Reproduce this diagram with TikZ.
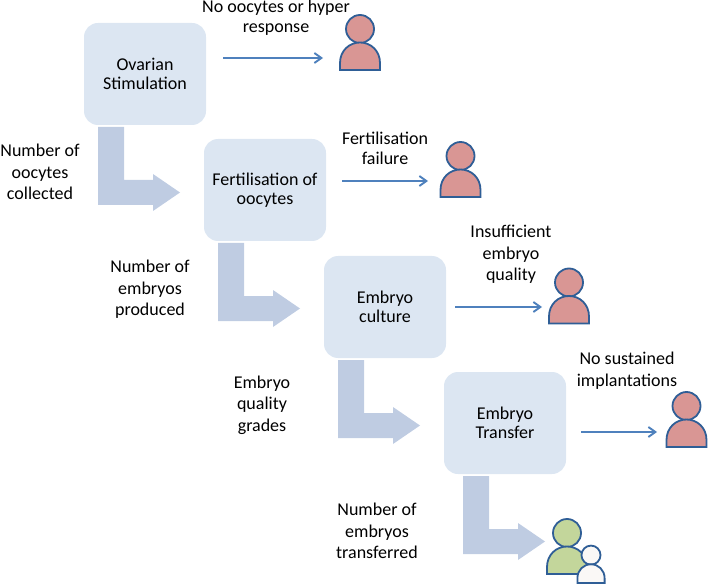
\documentclass[tikz,border=0pt]{standalone}
\usepackage{fontspec}
\setmainfont{Carlito}
\usepackage{xcolor}
\usetikzlibrary{arrows.meta}
\definecolor{boxblue}{HTML}{DCE6F2}
\definecolor{bentblue}{HTML}{BFCCE2}
\definecolor{lineblue}{HTML}{4F81BD}
\definecolor{edgeblue}{HTML}{2F5E96}
\definecolor{redfill}{HTML}{D99694}
\definecolor{greenfill}{HTML}{C3D69B}
\definecolor{paperfill}{HTML}{FAF8F6}
\tikzset{
  stagebox/.style={fill=boxblue,rounded corners=14pt,minimum width=122pt,minimum height=102pt,
    align=center,font=\fontsize{18}{19.5}\selectfont},
  caption/.style={align=center,font=\fontsize{18}{21.5}\selectfont},
  tightcaption/.style={align=center,font=\fontsize{18}{20}\selectfont},
  outcome/.style={-{Straight Barb[length=7pt,width=10pt]},lineblue,line width=1.9pt},
  person/.style={draw=edgeblue,line width=1.8pt,fill=#1},
  bent/.style={fill=bentblue}
}
\newcommand{\personshape}[4]{% x, y of base centre, scale, colour
  \begin{scope}[shift={(#1,#2)},scale=#3]
    \filldraw[person=#4] (0,-41) circle (14);
    \filldraw[person=#4] (-20,0) -- (-20,-7) .. controls (-20,-19) and (-11,-27.5) .. (0,-27.5)
      .. controls (11,-27.5) and (20,-19) .. (20,-7) -- (20,0) -- cycle;
  \end{scope}}
\begin{document}
\begin{tikzpicture}[x=1pt,y=-1pt]
\useasboundingbox (0,0) rectangle (709,585);
% bent arrows
\foreach \bx/\by in {98/127,218/243,338/360,463/476}{
  \fill[bent] (\bx,\by) -- ++(26,0) -- ++(0,53) -- ++(29,0) -- ++(0,-6) -- ++(27,18.5)
    -- ++(-27,18.5) -- ++(0,-6) -- ++(-55,0) -- cycle;
}
% stages
\node[stagebox] (ovarian) at (145,74) {Ovarian\\Stimulation};
\node[stagebox] (fert) at (265,190) {Fertilisation of\\oocytes};
\node[stagebox] (culture) at (385,307) {Embryo\\culture};
\node[stagebox] (transfer) at (505,423) {Embryo\\Transfer};
% people
\personshape{360}{70}{1}{redfill}
\personshape{460.5}{197}{1}{redfill}
\personshape{569}{323.5}{1}{redfill}
\personshape{686.5}{447}{1}{redfill}
\personshape{567}{574}{1}{greenfill}
\personshape{591}{583}{0.68}{paperfill}
% outcome arrows
\coordinate (p1) at (323,58);
\coordinate (p2) at (428,181);
\coordinate (p3) at (542,307);
\coordinate (p4) at (657,432);
\draw[outcome] (ovarian.east |- p1) ++(17,0) -- (p1);
\draw[outcome] (fert.east |- p2) ++(16,0) -- (p2);
\draw[outcome] (culture.east |- p3) ++(9,0) -- (p3);
\draw[outcome] (transfer.east |- p4) ++(15,0) -- (p4);
% labels
\node[tightcaption] (l1) at (276,18) {No oocytes or hyper\\response};
\node[tightcaption] (l2) at (385,148) {Fertilisation\\failure};
\node[caption] (l3) at (511,254.5) {Insufficient\\embryo\\quality};
\node[caption] (l4) at (627,370.5) {No sustained\\implantations};
\node[caption] (n1) at (40,172) {Number of\\oocytes\\collected};
\node[caption] (n2) at (150,289.5) {Number of\\embryos\\produced};
\node[caption] (n3) at (262,405) {Embryo\\quality\\grades};
\node[caption] (n4) at (377,531) {Number of\\embryos\\transferred};
\end{tikzpicture}
\end{document}
